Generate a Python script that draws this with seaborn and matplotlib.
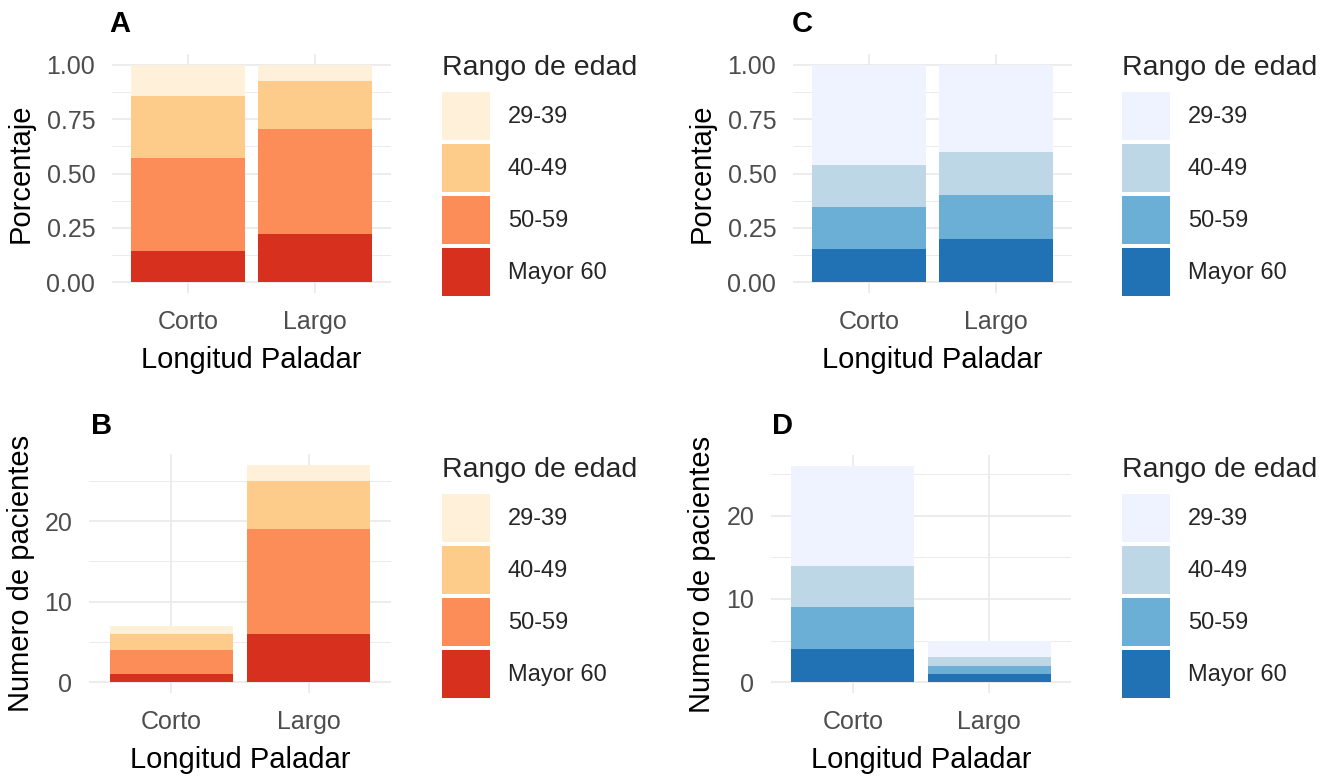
import numpy as np
import pandas as pd
import matplotlib
matplotlib.use("Agg")
import matplotlib.pyplot as plt
import seaborn as sns
from matplotlib.patches import Patch, Rectangle
from matplotlib.legend_handler import HandlerPatch
from matplotlib.ticker import FixedLocator

# ---------------- data ----------------
longitud = ["Corto", "Largo"]
rangos = ["29-39", "40-49", "50-59", "Mayor 60"]          # legend order (top -> bottom)

# counts per age range (Corto, Largo) - orange panels (A: proportions, B: counts)
naranja_mayor60 = [1, 6]
naranja_50_59 = [3, 13]
naranja_40_49 = [2, 6]
naranja_29_39 = [1, 2]

# counts per age range (Corto, Largo) - blue panels (C: proportions, D: counts)
azul_mayor60 = [4, 1]
azul_50_59 = [5, 1]
azul_40_49 = [5, 1]
azul_29_39 = [12, 2]

colores_naranja = ["#FEF0D9", "#FDCC8A", "#FC8D59", "#D7301F"]   # 29-39 .. Mayor 60
colores_azul = ["#EFF3FF", "#BDD7E7", "#6BAED6", "#2171B5"]

ticks_pct = [0.0, 0.25, 0.50, 0.75, 1.00]
ticks_pct_lab = ["0.00", "0.25", "0.50", "0.75", "1.00"]
ticks_n = [0, 10, 20]

# ---------------- style ----------------
sns.set_style("white")
plt.rcParams['font.family'] = ['Liberation Sans', 'DejaVu Sans']

W, H = 1335, 776
fig = plt.figure(figsize=(W / 100, H / 100), dpi=100)

GRID = "#EBEBEB"
TICKC = "#4D4D4D"
TICK_FS = 18
TITLE_FS = 21
LEG_FS = 17
LEGT_FS = 20.5


def axes_px(left, right, top, bottom):
    return fig.add_axes([left / W, 1 - bottom / H, (right - left) / W, (bottom - top) / H])


def stacked(ax, capas, colores, pct):
    # capas: bottom -> top (Mayor 60, 50-59, 40-49, 29-39)
    arr = np.array(capas, dtype=float)
    tot = arr.sum(axis=0)
    if pct:
        arr = arr / tot
    cum = np.cumsum(arr, axis=0)
    cols_bt = colores[::-1]
    for i in range(len(capas) - 1, -1, -1):
        df = pd.DataFrame({"Longitud": longitud, "val": cum[i]})
        sns.barplot(data=df, x="Longitud", y="val", color=cols_bt[i], width=0.9,
                    saturation=1, linewidth=0, errorbar=None, ax=ax, zorder=2)
    ax.set_xlim(-0.6, 1.6)


def style(ax, yticks, ylabs, minor, ylim, ylabel, left_px, width_px, ylab_x_px):
    ax.set_ylim(*ylim)
    ax.yaxis.set_major_locator(FixedLocator(yticks))
    ax.set_yticklabels(ylabs)
    ax.yaxis.set_minor_locator(FixedLocator(minor))
    ax.xaxis.set_major_locator(FixedLocator([0, 1]))
    ax.set_xticklabels(longitud)
    ax.set_axisbelow(True)
    ax.grid(which="major", color=GRID, lw=1.3, zorder=0)
    ax.grid(which="minor", axis="y", color=GRID, lw=0.7, zorder=0)
    for s in ax.spines.values():
        s.set_visible(False)
    ax.tick_params(which="both", length=0, colors=TICKC, labelsize=TICK_FS, pad=12)
    ax.set_xlabel("Longitud Paladar", fontsize=TITLE_FS, color="black", labelpad=9)
    ax.set_ylabel(ylabel, fontsize=TITLE_FS, color="black")
    ax.yaxis.set_label_coords((ylab_x_px - left_px) / width_px, 0.5)


def full_rect(legend, orig_handle, xdescent, ydescent, width, height, fontsize):
    return Rectangle((-xdescent, -ydescent), width, height)


def legend_at(ax, colores, x_px, y_px):
    handles = [Patch(facecolor=c, edgecolor="none") for c in colores]
    fs_px = LEG_FS * 100 / 72
    leg = ax.legend(handles, rangos, title="Rango de edad", loc="upper left",
                    bbox_to_anchor=(x_px / W, 1 - y_px / H), bbox_transform=fig.transFigure,
                    frameon=False, fontsize=LEG_FS, title_fontsize=LEGT_FS,
                    handlelength=48 / fs_px, handleheight=2.75, labelspacing=4 / fs_px,
                    handletextpad=18 / fs_px, borderpad=0, borderaxespad=0,
                    alignment="left",
                    handler_map={Patch: HandlerPatch(patch_func=full_rect)})
    leg._legend_box.sep = 8.0   # gap between title and keys
    return leg


# ---------------- Panel A ----------------
axA = axes_px(112, 391, 54, 293)
stacked(axA, [naranja_mayor60, naranja_50_59, naranja_40_49, naranja_29_39], colores_naranja, True)
style(axA, ticks_pct, ticks_pct_lab, [0.125, 0.375, 0.625, 0.875], (-0.05, 1.05), "Porcentaje",
      112, 279, 35)
legend_at(axA, colores_naranja, 442, 55)

# ---------------- Panel B ----------------
axB = axes_px(89, 391, 454, 693)
stacked(axB, [naranja_mayor60, naranja_50_59, naranja_40_49, naranja_29_39], colores_naranja, False)
totB = np.sum([naranja_mayor60, naranja_50_59, naranja_40_49, naranja_29_39], axis=0).max()
style(axB, ticks_n, [str(t) for t in ticks_n], [5, 15, 25], (-0.05 * totB, 1.05 * totB),
      "Numero de pacientes", 89, 302, 35)
legend_at(axB, colores_naranja, 442, 457)

# ---------------- Panel C ----------------
axC = axes_px(793, 1072, 54, 293)
stacked(axC, [azul_mayor60, azul_50_59, azul_40_49, azul_29_39], colores_azul, True)
style(axC, ticks_pct, ticks_pct_lab, [0.125, 0.375, 0.625, 0.875], (-0.05, 1.05), "Porcentaje",
      793, 279, 716)
legend_at(axC, colores_azul, 1122, 55)

# ---------------- Panel D ----------------
axD = axes_px(771, 1071, 455, 693)
stacked(axD, [azul_mayor60, azul_50_59, azul_40_49, azul_29_39], colores_azul, False)
totD = np.sum([azul_mayor60, azul_50_59, azul_40_49, azul_29_39], axis=0).max()
style(axD, ticks_n, [str(t) for t in ticks_n], [5, 15, 25], (-0.05 * totD, 1.05 * totD),
      "Numero de pacientes", 771, 300, 716)
legend_at(axD, colores_azul, 1122, 457)

# ---------------- panel tags ----------------
for tag, xp, yp in [("A", 109, 10), ("B", 91, 412), ("C", 792, 10), ("D", 772, 412)]:
    fig.text(xp / W, 1 - yp / H, tag, fontsize=21, fontweight="bold", ha="left", va="top",
             color="black")

fig.savefig("out.png", dpi=100)
